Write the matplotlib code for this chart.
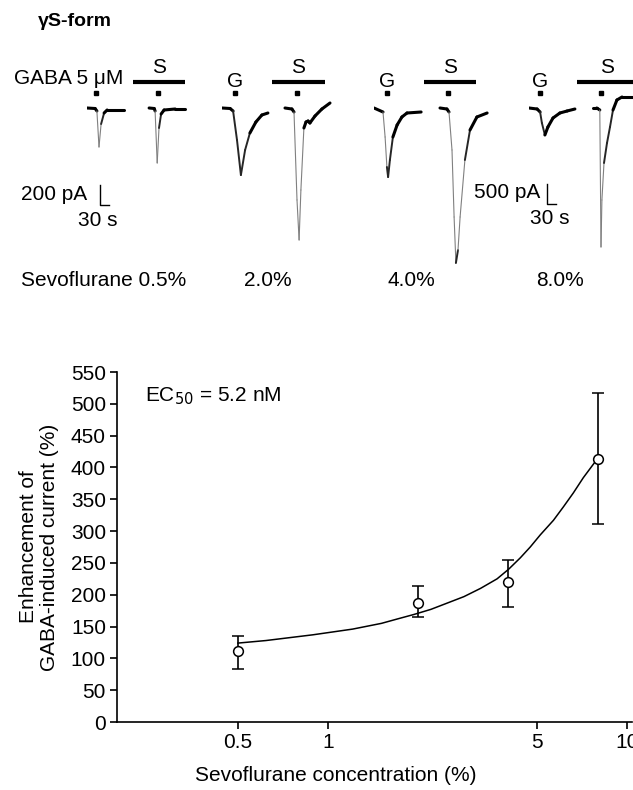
import numpy as np
import matplotlib.pyplot as plt
from matplotlib.collections import LineCollection

plt.rcParams['font.family'] = ['Liberation Sans', 'DejaVu Sans']

# dose-response (mean, asymmetric error bars) and fitted curve
conc = [0.5, 2.0, 4.0, 8.0]
enh = [112, 187, 220, 413]
err_lo = [29, 22, 39, 102]
err_hi = [23, 27, 35, 104]
fit_x = [0.5, 0.62, 0.89, 1.21, 1.51, 1.71, 1.94, 2.21, 2.51, 2.85, 3.24,
         3.68, 4.02, 4.40, 4.75, 5.13, 5.68, 6.13, 6.62, 7.15, 7.92]
fit_y = [124, 128, 137, 146, 155, 162, 169, 177, 187, 197, 210,
         225, 240, 258, 275, 294, 317, 338, 360, 384, 412]
xticks = [0.5, 1, 5, 10]
xticklabels = ['0.5', '1', '5', '10']
yticks = list(range(0, 551, 50))

# current traces: time (s) from sweep start, current (pA) from baseline
col_labels = ['Sevoflurane 0.5%', '2.0%', '4.0%', '8.0%']
g_t = [[0, 27, 33, 40, 47, 57, 67, 93, 123],
       [0, 27, 37, 50, 63, 77, 93, 113, 133, 153],
       [0, 30, 37, 43, 47, 53, 63, 77, 93, 110, 157],
       [0, 27, 37, 43, 53, 63, 80, 103, 127, 153]]
g_i = [[0, -5, -30, -390, -160, -50, -20, -20, -20],
       [0, -5, -30, -320, -670, -420, -250, -140, -70, -50],
       [0, -100, -725, -1475, -1725, -1300, -725, -425, -225, -125, -100],
       [0, -25, -100, -375, -675, -475, -250, -125, -75, -25]]
s_t = [[0, 17, 20, 27, 33, 40, 50, 87, 120],
       [0, 23, 30, 40, 47, 53, 63, 70, 77, 83, 100, 123, 150],
       [0, 23, 30, 40, 47, 53, 60, 67, 83, 100, 123, 157],
       [0, 13, 23, 27, 30, 37, 47, 57, 67, 80, 97, 133]]
s_i = [[0, -5, -30, -550, -200, -60, -20, -10, -10],
       [0, -10, -40, -920, -1320, -820, -200, -140, -130, -150, -80, -10, 50],
       [0, -25, -100, -1050, -2725, -3875, -3550, -2725, -1300, -550, -225, -125],
       [0, 0, -50, -3475, -2300, -1375, -875, -475, -50, 200, 275, 275]]
s_start = [207, 210, 220, 213]
g_pulse = [30, 43, 43, 37]
s_pulse = [30, 40, 27, 27]
bar_on = [-53, -43, -53, -53]
bar_off = [120, 133, 120, 150]
pa_per_px = [10, 10, 25, 25]
s_per_px = 10 / 3.0

W, H = 633, 790
fig = plt.figure(figsize=(W / 100, H / 100), dpi=100)

def fx(p):
    return p / W

def fy(p):
    return 1 - p / H

def draw_trace(ax, t, i, pa):
    t = np.asarray(t, float)
    i = np.asarray(i, float)
    pts = np.column_stack([t, i])
    segs = np.stack([pts[:-1], pts[1:]], axis=1)
    dxp = np.abs(np.diff(t)) / s_per_px
    dyp = np.abs(np.diff(i)) / pa
    slope = dyp / np.maximum(dxp, 1e-6)
    lw = np.where(slope < 3, 2.2, np.where(slope < 10, 1.4, 0.8))
    cols = ['k' if s < 3 else ('0.15' if s < 10 else '0.5') for s in slope]
    ax.add_collection(LineCollection(segs, linewidths=lw, colors=cols,
                                     capstyle='round', joinstyle='round'))

# top panel: one small axes per concentration
col_left = [87, 222, 374, 529]
top_px, bot_px, base_px, colw = 55, 275, 108, 115
for k in range(4):
    pa = pa_per_px[k]
    ax = fig.add_axes([fx(col_left[k]), fy(bot_px), colw / W, (bot_px - top_px) / H])
    ax.axis('off')
    ax.set_xlim(0, colw * s_per_px)
    ax.set_ylim(-(bot_px - base_px) * pa, (base_px - top_px) * pa)
    draw_trace(ax, g_t[k], g_i[k], pa)
    draw_trace(ax, np.asarray(s_t[k]) + s_start[k], s_i[k], pa)
    tr = ax.get_xaxis_transform()
    yf = lambda p: (bot_px - p) / (bot_px - top_px)
    ax.plot([s_start[k] + bar_on[k], s_start[k] + bar_off[k]], [yf(82)] * 2,
            color='k', lw=3, transform=tr, clip_on=False, solid_capstyle='butt')
    ax.text(s_start[k] + (bar_on[k] + bar_off[k]) / 2, yf(67), 'S', transform=tr,
            ha='center', va='center', fontsize=15)
    ax.plot([g_pulse[k], s_start[k] + s_pulse[k]], [yf(93)] * 2, 's', color='k',
            ms=2.5, transform=tr, clip_on=False)
    if k > 0:
        ax.text(g_pulse[k], yf(81), 'G', transform=tr, ha='center', va='center',
                fontsize=15)
    if k in (0, 3):
        sb_t = 43 if k == 0 else 60
        sb_i = -770 if k == 0 else -1900
        amp = 200 if k == 0 else 500
        ax.plot([sb_t, sb_t, sb_t + 30], [sb_i, sb_i - amp, sb_i - amp],
                color='k', lw=1.0, clip_on=False)

fig.text(fx(38), fy(21), 'γS-form', fontsize=14, weight='bold', va='center')
fig.text(fx(14), fy(79), 'GABA 5 μM', fontsize=15, va='center')
fig.text(fx(87), fy(194), '200 pA', fontsize=15, ha='right', va='center')
fig.text(fx(118), fy(221), '30 s', fontsize=15, ha='right', va='center')
fig.text(fx(540), fy(193), '500 pA', fontsize=15, ha='right', va='center')
fig.text(fx(569), fy(219), '30 s', fontsize=15, ha='right', va='center')
fig.text(fx(21), fy(281), col_labels[0], fontsize=15, va='center')
for cx, lab in zip([268, 411, 560], col_labels[1:]):
    fig.text(fx(cx), fy(281), lab, fontsize=15, ha='center', va='center')

# bottom panel: dose-response
ax = fig.add_axes([fx(117), fy(722), (632 - 117) / W, 350 / H])
ax.set_xscale('log')
ax.plot(fit_x, fit_y, color='k', lw=1.1)
ax.errorbar(conc, enh, yerr=[err_lo, err_hi], fmt='o', mfc='white', mec='k',
            mew=1.1, ms=7, color='k', elinewidth=1.2, capsize=4.5, capthick=1.2,
            zorder=3)
ax.set_xlim(0.197, 10.4)
ax.set_ylim(0, 550)
ax.set_xticks(xticks)
ax.set_xticklabels(xticklabels)
ax.minorticks_off()
ax.set_yticks(yticks)
for s in ['top', 'right']:
    ax.spines[s].set_visible(False)
for s in ['left', 'bottom']:
    ax.spines[s].set_linewidth(1.2)
ax.tick_params(direction='out', length=5, width=1.2, labelsize=15, pad=3)
ax.set_ylabel('Enhancement of\nGABA-induced current (%)', fontsize=15,
              linespacing=1.1)
ax.yaxis.set_label_coords(-0.113, 0.5)
ax.set_xlabel('Sevoflurane concentration (%)', fontsize=15)
ax.xaxis.set_label_coords(0.425, -0.125)
ax.text(0.055, 0.93, 'EC$_{50}$ = 5.2 nM', transform=ax.transAxes, fontsize=15,
        va='center')

fig.savefig('out.png', dpi=100)
